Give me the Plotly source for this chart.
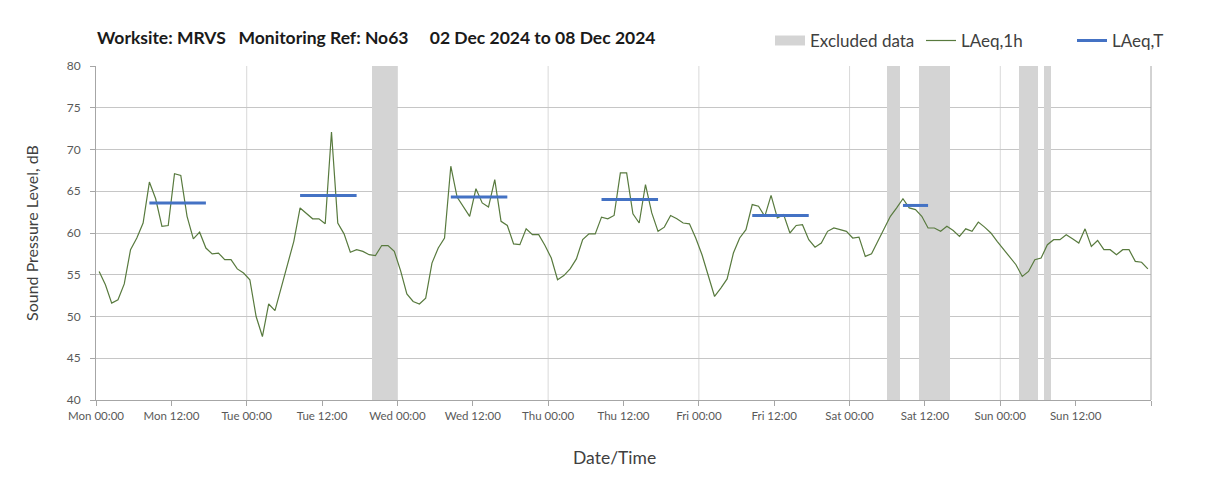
import pandas as pd
import plotly.graph_objects as go

# ---- data ----
start = pd.Timestamp("2024-12-02 00:00")
laeq_1h = [
    55.4, 53.8, 51.6, 52.0, 53.9, 58.0, 59.4, 61.2, 66.1, 64.1, 60.8, 60.9,
    67.1, 66.9, 62.0, 59.3, 60.1, 58.2, 57.5, 57.6, 56.8, 56.8, 55.7, 55.2,
    54.4, 50.0, 47.6, 51.5, 50.7, 53.4, 56.0, 59.0, 63.0, 62.3, 61.7, 61.7,
    61.1, 72.1, 61.2, 59.9, 57.7, 58.0, 57.8, 57.4, 57.3, 58.5, 58.5, 57.8,
    55.5, 52.7, 51.8, 51.5, 52.2, 56.4, 58.2, 59.4, 68.0, 64.3, 63.1, 62.0,
    65.3, 63.6, 63.1, 66.4, 61.4, 60.9, 58.7, 58.6, 60.5, 59.8, 59.8, 58.5,
    57.0, 54.4, 54.9, 55.7, 56.9, 59.2, 59.9, 59.9, 61.9, 61.7, 62.1, 67.2,
    67.2, 62.3, 61.2, 65.8, 62.4, 60.2, 60.7, 62.1, 61.7, 61.2, 61.1, 59.4,
    57.4, 55.0, 52.4, 53.4, 54.5, 57.6, 59.4, 60.4, 63.4, 63.2, 62.0, 64.5,
    61.8, 62.2, 60.0, 60.9, 61.0, 59.2, 58.3, 58.8, 60.2, 60.6, 60.4, 60.2,
    59.4, 59.5, 57.2, 57.5, 59.0, 60.6, 62.0, 63.0, 64.1, 63.0, 62.8, 62.0,
    60.6, 60.6, 60.2, 60.8, 60.3, 59.6, 60.5, 60.2, 61.3, 60.7, 60.0, 59.0,
    58.1, 57.2, 56.2, 54.8, 55.4, 56.8, 57.0, 58.6, 59.2, 59.2, 59.8, 59.3,
    58.8, 60.5, 58.4, 59.1, 58.0, 58.0, 57.4, 58.0, 58.0, 56.6, 56.5, 55.7,
]
# LAeq,T per day: first hour index, last hour index, value
laeq_t_first = [8, 32, 56, 80, 104, 128]
laeq_t_last = [17, 41, 65, 89, 113, 132]
laeq_t_value = [63.6, 64.5, 64.3, 64.0, 62.1, 63.3]
# excluded hours (hour index from Mon 00:00)
excluded_hours = [44, 45, 46, 47, 126, 127, 131, 132, 133, 134, 135,
                  147, 148, 149, 151]

FONT = "Lato"
GREY_BAND = "#d4d4d4"
hour = pd.Timedelta(hours=1)
x_hours = [start + (i + 0.5) * hour for i in range(len(laeq_1h))]

fig = go.Figure()

# excluded data as full-height bars
fig.add_trace(go.Bar(
    x=[start + (h + 0.5) * hour for h in excluded_hours],
    y=[40] * len(excluded_hours), base=[40] * len(excluded_hours),
    width=[3600000] * len(excluded_hours),
    marker=dict(color=GREY_BAND, line=dict(width=0)),
    name="Excluded data", hoverinfo="skip", showlegend=False,
    legendgroup="excl",
))
# legend proxy for the excluded band (wide grey swatch)
fig.add_trace(go.Scatter(
    x=[None], y=[None], mode="lines", name="Excluded data",
    line=dict(color=GREY_BAND, width=12), legendgroup="excl",
))

fig.add_trace(go.Scatter(
    x=x_hours, y=laeq_1h, mode="lines", name="LAeq,1h",
    line=dict(color="#587a3e", width=1.2),
))

tx, ty = [], []
for a, b, v in zip(laeq_t_first, laeq_t_last, laeq_t_value):
    for h in range(a, b + 1):
        tx.append(x_hours[h]); ty.append(v)
    tx.append(None); ty.append(None)
fig.add_trace(go.Scatter(
    x=tx, y=ty, mode="lines", name="LAeq,T",
    line=dict(color="#4472c4", width=3),
))

# day gridlines
for d in range(1, 7):
    fig.add_shape(type="line", xref="x", yref="paper",
                  x0=start + pd.Timedelta(days=d), x1=start + pd.Timedelta(days=d),
                  y0=0, y1=1, layer="below",
                  line=dict(color="#d9d9d9", width=1))

tick_vals = [start + pd.Timedelta(hours=12 * k) for k in range(14)]
tick_text = [t.strftime("%a %H:%M") for t in tick_vals]

W, H = 1055.0, 334.0

fig.update_layout(
    width=1208, height=490,
    margin=dict(l=88, r=65, t=58, b=98, autoexpand=False),
    paper_bgcolor="white", plot_bgcolor="white",
    font=dict(family=FONT, color="#404040"),
    bargap=0, barmode="overlay",
    showlegend=True,
    legend=dict(orientation="h", x=(770 - 96) / W, xanchor="left", y=1.075, yanchor="middle",
                font=dict(size=17, color="#404040", family=FONT), traceorder="normal",
                itemwidth=30, entrywidth=106, bgcolor="rgba(0,0,0,0)"),
    xaxis=dict(
        type="date",
        range=[start, start + pd.Timedelta(days=7)],
        tickmode="array", tickvals=tick_vals, ticktext=tick_text,
        minor=dict(dtick=12 * 3600000, tick0=start, ticks="outside", ticklen=5,
                   tickcolor="#a6a6a6", showgrid=False),
        showgrid=False, ticks="outside", ticklen=5, tickcolor="#a6a6a6",
        showline=True, linecolor="#a6a6a6", mirror=False,
        tickfont=dict(size=11.5, color="#595959", family=FONT),
        zeroline=False, automargin=False,
    ),
    yaxis=dict(
        range=[40, 80], dtick=5, tick0=40,
        showgrid=True, gridcolor="#c6c6c6", gridwidth=1,
        ticks="outside", ticklen=5, tickcolor="#a6a6a6", ticklabelstandoff=7,
        showline=True, linecolor="#a6a6a6",
        tickfont=dict(size=12, color="#595959", family=FONT),
        title=dict(text="Sound Pressure Level, dB", font=dict(size=16, color="#404040", family=FONT), standoff=24),
        zeroline=False, automargin=False,
    ),
)

# right border of plot area
fig.add_shape(type="line", xref="paper", yref="paper", x0=1, x1=1, y0=0, y1=1,
              line=dict(color="#a6a6a6", width=1))

# chart-area border
fig.add_shape(type="rect", xref="paper", yref="paper",
              x0=(4 - 96) / W, x1=(1201 - 96) / W,
              y0=(400 - 496) / H, y1=(400 - 5) / H,
              line=dict(color="#d9d9d9", width=1), layer="below")

# x-axis title
fig.add_annotation(
    text="Date/Time", xref="paper", yref="paper",
    x=(614 - 96) / W, y=(400 - 457) / H, xanchor="center", yanchor="middle",
    showarrow=False, font=dict(size=17.5, color="#404040", family=FONT),
)

fig.add_annotation(
    text="<b>Worksite: MRVS\u00a0\u00a0\u00a0Monitoring Ref: No63\u00a0\u00a0\u00a0\u00a0\u00a002 Dec 2024 to 08 Dec 2024</b>",
    xref="paper", yref="paper", x=-0.001, y=(400 - 37) / H,
    xanchor="left", yanchor="middle", showarrow=False,
    font=dict(size=17.5, color="#1a1a1a", family=FONT),
)

fig.write_html("out.html")
